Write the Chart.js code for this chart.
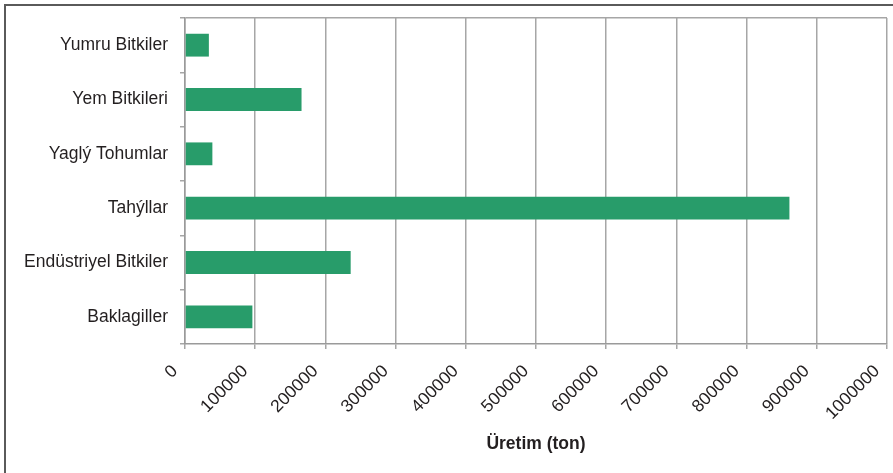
<!DOCTYPE html>
<html lang="tr">
<head>
<meta charset="UTF-8">
<title>Üretim (ton)</title>
<script src="https://cdn.jsdelivr.net/npm/chart.js@4"></script>
<style>
  body { margin: 0; background: #fff; }
  #wrap { position: relative; width: 893px; height: 473px; overflow: hidden; }
  #frame {
    position: absolute; left: 4px; top: 4px; width: 900px; height: 500px;
    border-left: 2px solid #5a5a5a; border-top: 2px solid #5a5a5a;
  }
  canvas { position: absolute; left: 0; top: 0; }
</style>
</head>
<body>
<div id="wrap">
  <div id="frame"></div>
  <canvas id="chart" width="893" height="473"></canvas>
</div>
<script>
// data
const categories = ["Yumru Bitkiler", "Yem Bitkileri", "Yaglý Tohumlar", "Tahýllar", "Endüstriyel Bitkiler", "Baklagiller"];
const production = [34000, 166000, 39000, 861000, 236000, 96000];
const xTicks = [0, 100000, 200000, 300000, 400000, 500000, 600000, 700000, 800000, 900000, 1000000];

const gray = "#a6a6a6";
const textColor = "#231f20";
const fontFamily = "'Liberation Sans', Arial, sans-serif";

const ctx = document.getElementById("chart").getContext("2d");
new Chart(ctx, {
  type: "bar",
  data: {
    labels: categories,
    datasets: [{
      data: production,
      backgroundColor: "#289c6a",
      borderWidth: 0,
      barPercentage: 0.42,
      categoryPercentage: 1
    }]
  },
  options: {
    responsive: false,
    animation: false,
    devicePixelRatio: 1,
    indexAxis: "y",
    layout: { padding: { top: 18, right: 6, left: 0, bottom: 0 } },
    plugins: { legend: { display: false }, tooltip: { enabled: false } },
    scales: {
      x: {
        min: xTicks[0],
        max: xTicks[xTicks.length - 1],
        ticks: {
          stepSize: xTicks[1] - xTicks[0],
          callback: v => String(v),
          minRotation: 45,
          maxRotation: 45,
          autoSkip: false,
          padding: 12,
          labelOffset: -10,
          color: textColor,
          font: { family: fontFamily, size: 17.5 }
        },
        grid: { color: gray, lineWidth: 1.5, tickLength: 5, tickColor: gray },
        border: { color: "#9a9a9a", width: 1.5 },
        title: {
          display: true,
          text: "Üretim (ton)",
          color: textColor,
          font: { family: fontFamily, size: 17.5, weight: "bold" },
          padding: { top: 0, bottom: 18 }
        },
        afterFit: s => {
          s.height = 129;
          s.paddingLeft = 0;
          s.paddingRight = 0;
        }
      },
      y: {
        ticks: {
          padding: 12,
          color: textColor,
          font: { family: fontFamily, size: 17.5 }
        },
        grid: {
          offset: true,
          color: c => c.index === 0 ? gray : "transparent",
          tickColor: gray,
          tickLength: 5,
          lineWidth: 1.5
        },
        border: { color: "#9a9a9a", width: 1.5 },
        afterFit: s => {
          s.width = 185;
          s.paddingTop = 0;
          s.paddingBottom = 0;
        }
      }
    }
  }
});
</script>
</body>
</html>
